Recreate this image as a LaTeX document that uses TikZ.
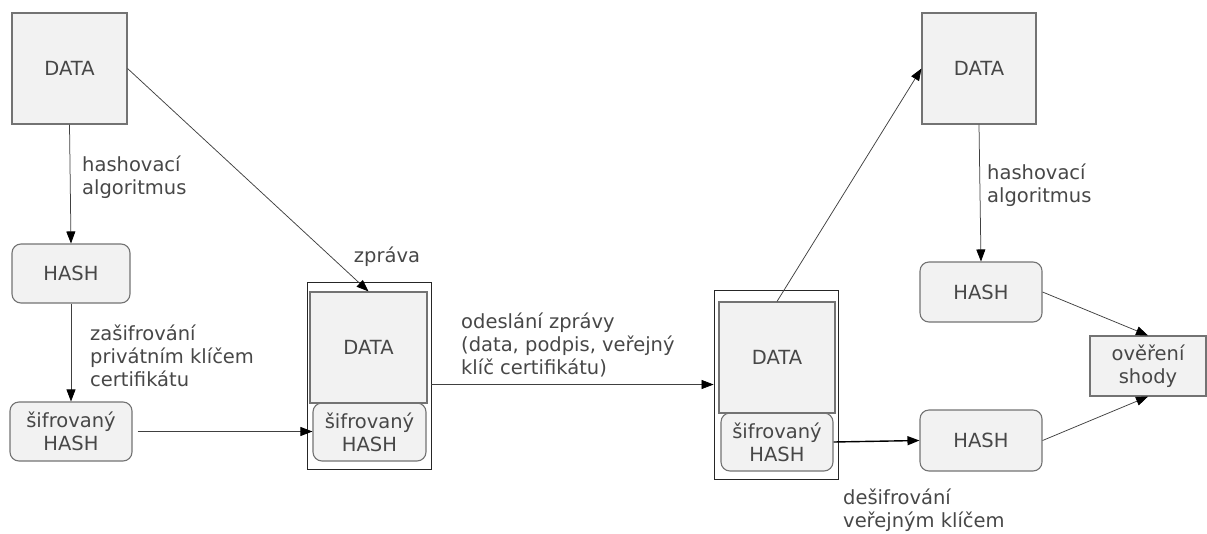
\documentclass[tikz,border=0pt]{standalone}
\usepackage{fontspec}
\setmainfont{DejaVu Sans}
\usetikzlibrary{arrows.meta}
\begin{document}
\begin{tikzpicture}[x=1pt,y=-1pt,
  txt/.style={text=black!72, font=\fontsize{19.5}{23}\selectfont},
  box/.style={txt, draw=black!55, line width=1.1pt, fill=black!5, align=center, inner sep=0pt},
  rbox/.style={box, rounded corners=9pt},
  frame/.style={draw=black!85, line width=0.8pt, fill=white, inner sep=0pt},
  lbl/.style={txt, align=left, inner sep=0pt, anchor=west},
  arr/.style={draw=black!75, line width=0.75pt, -{Triangle[length=12pt,width=9pt,color=black]}},
]
\useasboundingbox (0,0) rectangle (1207,533);

% sender side
\node[box, minimum width=115pt, minimum height=111pt] (d1) at (69.5,68.5) {DATA};
\node[rbox, minimum width=118pt, minimum height=59pt] (h1) at (71,273.5) {HASH};
\node[rbox, minimum width=122pt, minimum height=59pt] (e1) at (71,431.5) {šifrovaný\\HASH};

% signed message
\node[frame, minimum width=124pt, minimum height=187pt] (m1) at (369,375.5) {};
\node[rbox, minimum width=113pt, minimum height=58pt] (m1h) at (369.5,432) {šifrovaný\\HASH};
\node[box, minimum width=117pt, minimum height=111pt] (m1d) at (368.5,347.5) {DATA};

% received message
\node[frame, minimum width=124pt, minimum height=189pt] (m2) at (776,384.5) {};
\node[rbox, minimum width=112pt, minimum height=58pt] (m2h) at (777,442) {šifrovaný\\HASH};
\node[box, minimum width=116pt, minimum height=111pt] (m2d) at (777,357.5) {DATA};

% receiver side
\node[box, minimum width=114pt, minimum height=111pt] (d2) at (979,68.5) {DATA};
\node[rbox, minimum width=122pt, minimum height=60pt] (h2) at (981,292) {HASH};
\node[rbox, minimum width=122pt, minimum height=61pt] (h3) at (981,440.5) {HASH};
\node[box, minimum width=116pt, minimum height=60pt] (v) at (1148,366) {ověření\\shody};

% labels
\node[lbl] (l1) at (82,177) {hashovací\\algoritmus};
\node[lbl] (l2) at (90,356) {zašifrování\\privátním klíčem\\certifikátu};
\node[txt, inner sep=0pt] (l3) at (387,257) {zpráva};
\node[lbl] (l4) at (461,345) {odeslání zprávy\\(data, podpis, veřejný\\klíč certifikátu)};
\node[lbl] (l5) at (987,185) {hashovací\\algoritmus};
\node[lbl] (l6) at (843,510) {dešifrování\\veřejným klíčem};

% connectors
\draw[arr] (d1.south) -- (h1.north);
\draw[arr] (h1.south) -- (e1.north);
\draw[arr, shorten <=5pt] (e1.east) -- (e1.east -| m1h.west);
\draw[arr] (d1.east) -- (m1d.north);
\draw[arr] (m1.east |- m2.west) -- (m2.west);
\draw[arr] (m2d.north) -- (d2.west);
\draw[arr] (d2.south) -- (h2.north);
\draw[arr, draw=black, line width=1.4pt] (m2h.east) -- (h3.west);
\draw[arr] (h2.east) -- (v.north);
\draw[arr] (h3.east) -- (v.south);
\end{tikzpicture}
\end{document}
